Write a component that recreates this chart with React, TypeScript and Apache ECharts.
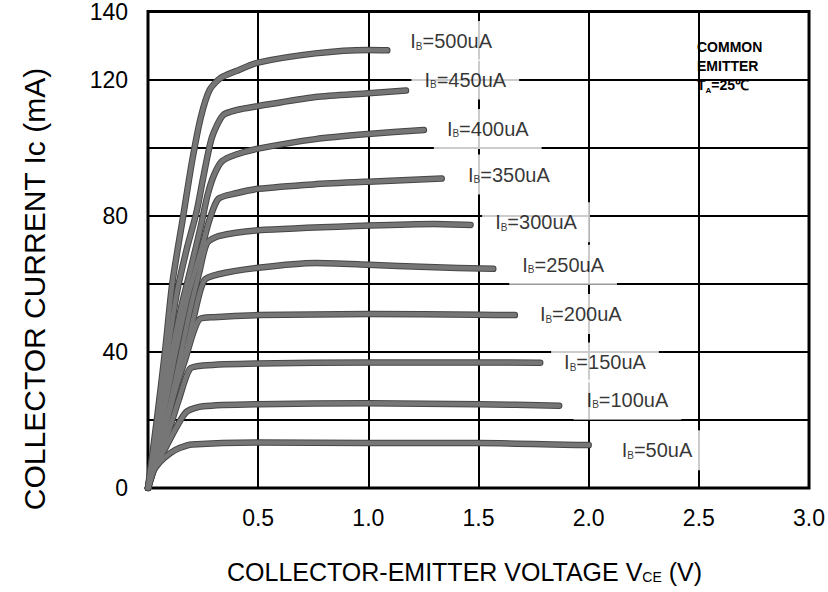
import React, { useEffect, useRef } from "react";
import * as echarts from "echarts";

const FONT = '"Liberation Sans", Arial, Helvetica, sans-serif';

// Base-current labels (uA)
const baseCurrents = ["500", "450", "400", "350", "300", "250", "200", "150", "100", "50"];

// Curves: [V_CE (V), I_C (mA)]
const ib500 = [[0, 0], [0.04, 20], [0.077, 40], [0.11, 60], [0.16, 80], [0.2, 96], [0.24, 109], [0.28, 117], [0.33, 120.5], [0.4, 122.5], [0.5, 125], [0.76, 127.7], [1.0, 128.7], [1.086, 128.6]];
const ib450 = [[0, 0], [0.045, 20], [0.09, 40], [0.13, 57], [0.175, 70], [0.22, 81], [0.25, 91], [0.29, 103], [0.34, 109.5], [0.4, 111], [0.5, 112.2], [0.76, 114.9], [1.0, 116], [1.171, 116.8]];
const ib400 = [[0, 0], [0.05, 19], [0.1, 37], [0.15, 53], [0.2, 66], [0.24, 77], [0.27, 86], [0.3, 92], [0.336, 96], [0.4, 98], [0.5, 99.7], [0.76, 102.5], [1.0, 104], [1.252, 105.2]];
const ib350 = [[0, 0], [0.06, 18], [0.12, 38], [0.18, 56], [0.25, 72], [0.28, 79], [0.32, 85], [0.4, 86.6], [0.5, 87.9], [0.75, 89.2], [1.0, 90], [1.333, 90.9]];
const ib300 = [[0, 0], [0.07, 16], [0.145, 38], [0.19, 52], [0.235, 64], [0.268, 72], [0.32, 74], [0.5, 75.7], [1.0, 77.1], [1.3, 77.6], [1.464, 77.3]];
const ib250 = [[0, 0], [0.06, 13], [0.12, 28], [0.177, 41.4], [0.21, 50.8], [0.255, 61], [0.32, 62.8], [0.5, 64.7], [0.76, 66.1], [1.0, 65.6], [1.27, 64.9], [1.567, 64.4]];
const ib200 = [[0, 0], [0.05, 11], [0.114, 26.5], [0.17, 38], [0.232, 49.5], [0.3, 50.2], [0.5, 50.8], [1.0, 51.1], [1.5, 50.9], [1.665, 50.8]];
const ib150 = [[0, 0], [0.04, 8], [0.09, 16], [0.14, 26], [0.19, 35], [0.25, 36], [0.5, 36.6], [1.0, 36.9], [1.5, 36.9], [1.78, 36.8]];
const ib100 = [[0, 0], [0.03, 6], [0.077, 11.5], [0.13, 18], [0.177, 22.5], [0.25, 24], [0.5, 24.6], [1.0, 24.9], [1.5, 24.6], [1.866, 24.2]];
const ib50 = [[0, 0], [0.02, 4.5], [0.055, 7.7], [0.1, 10.2], [0.145, 11.8], [0.2, 12.8], [0.5, 13.4], [1.0, 13.2], [1.5, 13.2], [2.0, 12.6]];

const curves = [ib500, ib450, ib400, ib350, ib300, ib250, ib200, ib150, ib100, ib50];

// Label anchor points (centre of each label) in data units
const labelV = [1.376, 1.44, 1.542, 1.638, 1.761, 1.884, 1.964, 2.074, 2.176, 2.31];
const labelI = [131.3, 120, 105.5, 92.1, 78.1, 65.6, 51.1, 36.9, 25.9, 11.1];

// Tick labels
const xTickLabels = ["0.5", "1.0", "1.5", "2.0", "2.5", "3.0"];
const yTickLabels = [0, 40, 80, 120, 140];

export default function App() {
  const ref = useRef<HTMLDivElement>(null);

  useEffect(() => {
    if (!ref.current) return;
    const chart = echarts.init(ref.current, null, { renderer: "svg" });

    const series: any[] = [];
    curves.forEach((d, i) => {
      series.push({
        type: "line",
        name: "outline" + i,
        data: d,
        symbol: "none",
        smooth: 0.25,
        silent: true,
        z: 2,
        lineStyle: { color: "#464646", width: 6.5, cap: "round", join: "round" },
      });
    });
    curves.forEach((d, i) => {
      series.push({
        type: "line",
        name: "IB" + baseCurrents[i],
        data: d,
        symbol: "none",
        smooth: 0.25,
        silent: true,
        z: 3,
        lineStyle: { color: "#767676", width: 4.5, cap: "round", join: "round" },
      });
    });
    series.push({
      type: "scatter",
      data: labelV.map((v, i) => [v, labelI[i]]),
      symbolSize: 1,
      itemStyle: { color: "rgba(0,0,0,0)" },
      silent: true,
      z: 10,
      label: {
        show: true,
        position: "inside",
        backgroundColor: "#ffffff",
        padding: [10, 13],
        formatter: (p: any) => `{i|I}{s|B}{t|=${baseCurrents[p.dataIndex]}uA}`,
        rich: {
          i: { fontSize: 20, fontFamily: FONT, color: "#000", lineHeight: 20 },
          s: { fontSize: 10, fontFamily: FONT, color: "#000", verticalAlign: "bottom", lineHeight: 12 },
          t: { fontSize: 20, fontFamily: FONT, color: "#000", lineHeight: 20 },
        },
      },
    });

    chart.setOption({
      animation: false,
      backgroundColor: "#ffffff",
      grid: {
        left: 148,
        right: 17,
        top: 8,
        bottom: 104,
        show: true,
        borderColor: "#000",
        borderWidth: 3,
        backgroundColor: "#fff",
      },
      xAxis: {
        type: "value",
        min: 0,
        max: 3,
        interval: 0.5,
        axisLine: { show: false },
        axisTick: { show: false },
        splitLine: { show: true, lineStyle: { color: "#000", width: 2 } },
        axisLabel: {
          margin: 18,
          fontSize: 23,
          fontFamily: FONT,
          color: "#000",
          formatter: (v: number) => {
            const s = v.toFixed(1);
            return xTickLabels.includes(s) ? s : "";
          },
        },
        name: "{a|COLLECTOR-EMITTER VOLTAGE V}{b|CE}{a| (V)}",
        nameLocation: "middle",
        nameGap: 71,
        nameTextStyle: {
          padding: [0, 28, 0, 0],
          rich: {
            a: { fontSize: 25, fontFamily: FONT, color: "#000" },
            b: { fontSize: 14, fontFamily: FONT, color: "#000", verticalAlign: "bottom", lineHeight: 17 },
          },
        },
      },
      yAxis: {
        type: "value",
        min: 0,
        max: 140,
        interval: 20,
        axisLine: { show: false },
        axisTick: { show: false },
        splitLine: { show: true, lineStyle: { color: "#000", width: 2 } },
        axisLabel: {
          margin: 20,
          fontSize: 23,
          fontFamily: FONT,
          color: "#000",
          formatter: (v: number) => (yTickLabels.includes(v) ? String(v) : ""),
        },
      },
      graphic: [
        {
          type: "text",
          x: 34,
          y: 289,
          rotation: Math.PI / 2,
          z: 20,
          style: {
            text: "COLLECTOR CURRENT Ic (mA)",
            fontSize: 30,
            fontFamily: FONT,
            fill: "#000",
            align: "center",
            verticalAlign: "middle",
          },
        },
        {
          type: "text",
          left: 697,
          top: 40,
          z: 20,
          style: {
            text: "{a|COMMON}\n{a|EMITTER}\n{a|T}{s|A}{a|=25℃}",
            rich: {
              a: { fontSize: 14, fontWeight: "bold", fontFamily: FONT, fill: "#000", lineHeight: 19 },
              s: { fontSize: 8, fontWeight: "bold", fontFamily: FONT, fill: "#000", verticalAlign: "bottom", lineHeight: 14 },
            },
          },
        },
      ],
      series,
    });

    return () => chart.dispose();
  }, []);

  return (
    <div
      ref={ref}
      style={{ position: "absolute", left: 0, top: 0, width: 828, height: 592 }}
    />
  );
}
